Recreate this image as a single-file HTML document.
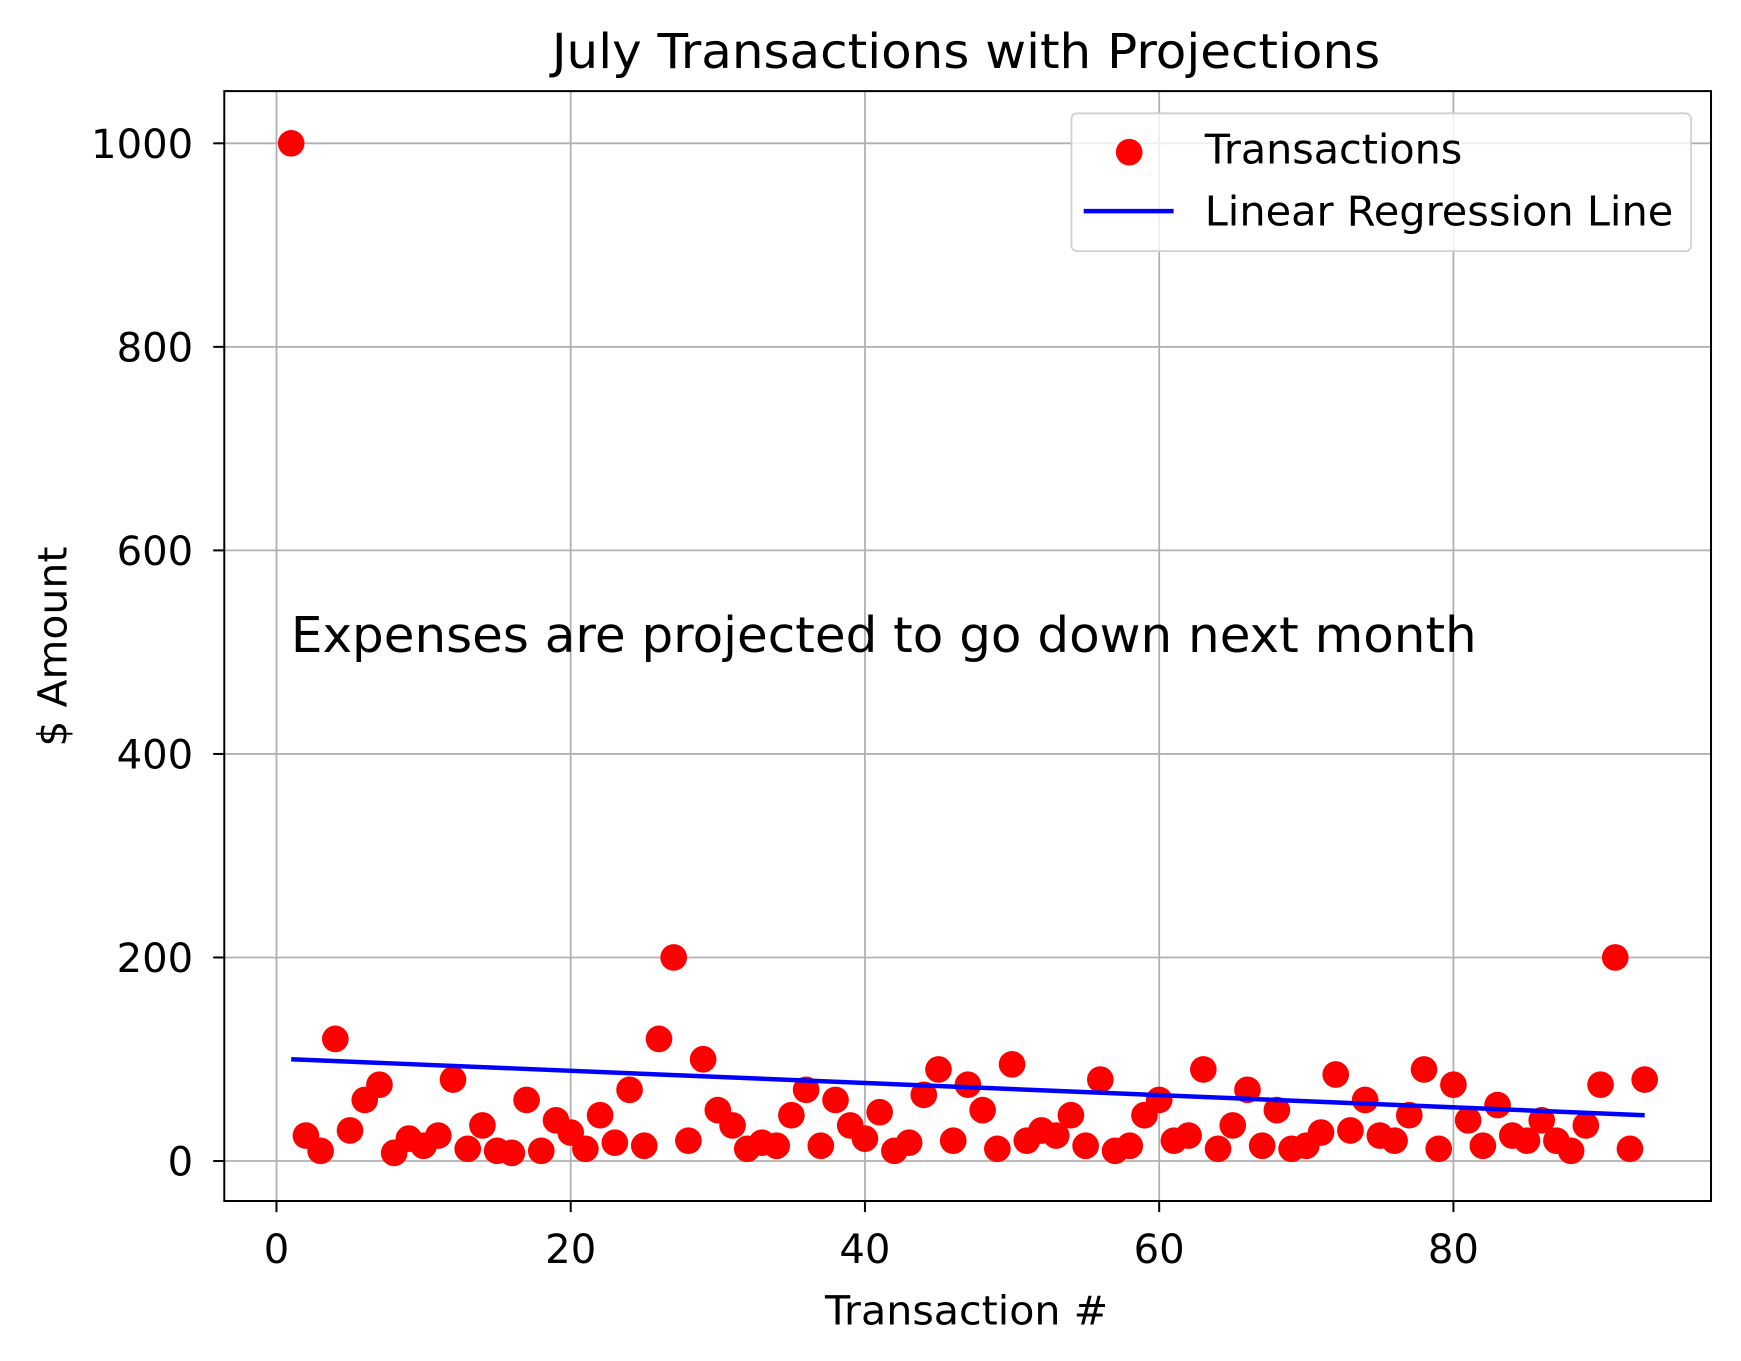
<!DOCTYPE html>
<html><head><meta charset="utf-8"><style>html,body{margin:0;padding:0;background:#fff}svg{display:block}text{font-family:"DejaVu Sans","Liberation Sans",sans-serif;fill:#000}</style></head>
<body>
<svg id="chart" width="1741" height="1361" viewBox="0 0 1568 1225" preserveAspectRatio="none" xmlns="http://www.w3.org/2000/svg">
<rect width="1568" height="1225" fill="#fff"/>
<g id="grid"></g>
<g id="marks"></g>
<rect x="202" y="82" width="1339" height="999" fill="none" stroke="#000" stroke-width="1.8"/>
<g id="ticks"></g>
<text x="497" y="61" font-size="43" textLength="746" lengthAdjust="spacingAndGlyphs">July Transactions with Projections</text>
<text x="743" y="1192" font-size="36" textLength="255" lengthAdjust="spacingAndGlyphs">Transaction #</text>
<text transform="translate(60,672) rotate(-90)" font-size="36" textLength="180" lengthAdjust="spacingAndGlyphs">$ Amount</text>
<text x="262" y="587" font-size="44" textLength="1068" lengthAdjust="spacingAndGlyphs">Expenses are projected to go down next month</text>
<g>
<rect x="965" y="102" width="558" height="124" rx="5" fill="#fff" fill-opacity="0.8" stroke="#d0d0d0" stroke-width="1.6"/>
<circle cx="1017" cy="137" r="12" fill="#ff0000"/>
<text x="1085" y="147" font-size="37" textLength="232" lengthAdjust="spacingAndGlyphs">Transactions</text>
<line x1="976" y1="190" x2="1057" y2="190" stroke="#0000ff" stroke-width="4"/>
<text x="1085" y="203" font-size="37" textLength="422" lengthAdjust="spacingAndGlyphs">Linear Regression Line</text>
</g>
</svg>
<script>
const amounts = [1000,25,10,120,30,60,75,8,22,15,25,80,12,35,10,8,60,10,40,28,12,45,18,70,15,120,200,20,100,50,35,12,18,15,45,70,15,60,35,22,48,10,18,65,90,20,75,50,12,95,20,30,25,45,15,80,10,15,45,60,20,25,90,12,35,70,15,50,12,15,28,85,30,60,25,20,45,90,12,75,40,15,55,25,20,40,20,10,35,75,200,12,80];
const regX = [1,93];
const regY = [100,45];
const xTicks = [0,20,40,60,80];
const yTicks = [0,200,400,600,800,1000];
const NS='http://www.w3.org/2000/svg';
const xs = v => 249 + v*13.25;
const ys = v => 1045 - v*0.916;
const grid=document.getElementById('grid'), marks=document.getElementById('marks'), ticks=document.getElementById('ticks');
function mk(tag, attrs, parent){const e=document.createElementNS(NS,tag);for(const k in attrs)e.setAttribute(k,attrs[k]);parent.appendChild(e);return e;}
xTicks.forEach(t=>{
  const g=mk('line',{x1:xs(t),x2:xs(t),y1:82,y2:1081,stroke:'#b0b0b0','stroke-width':1.6},grid);
  
  
  const tk=mk('line',{x1:xs(t),x2:xs(t),y1:1081,y2:1091,stroke:'#000','stroke-width':1.8},ticks);
  
  
  const s=String(t);
  const tx=mk('text',{x:xs(t)-s.length*11.5,y:1137,'font-size':36,textLength:s.length*23,lengthAdjust:'spacingAndGlyphs'},ticks);
  tx.textContent=s;
  
  
});
yTicks.forEach(t=>{
  const g=mk('line',{x1:202,x2:1541,y1:ys(t),y2:ys(t),stroke:'#b0b0b0','stroke-width':1.6},grid);
  
  
  const tk=mk('line',{x1:192,x2:202,y1:ys(t),y2:ys(t),stroke:'#000','stroke-width':1.8},ticks);
  
  
  const s=String(t);
  const tx=mk('text',{x:174-s.length*23,y:ys(t)+13,'font-size':36,textLength:s.length*23,lengthAdjust:'spacingAndGlyphs'},ticks);
  tx.textContent=s;
  
  
});
amounts.forEach((v,i)=>{
  const c=mk('circle',{cx:xs(i+1),cy:ys(v),r:12,fill:'#ff0000'},marks);
  
  
});
const l=mk('polyline',{points:regX.map((x,i)=>xs(x)+','+ys(regY[i])).join(' '),fill:'none',stroke:'#0000ff','stroke-width':4},marks);


</script>
</body></html>
